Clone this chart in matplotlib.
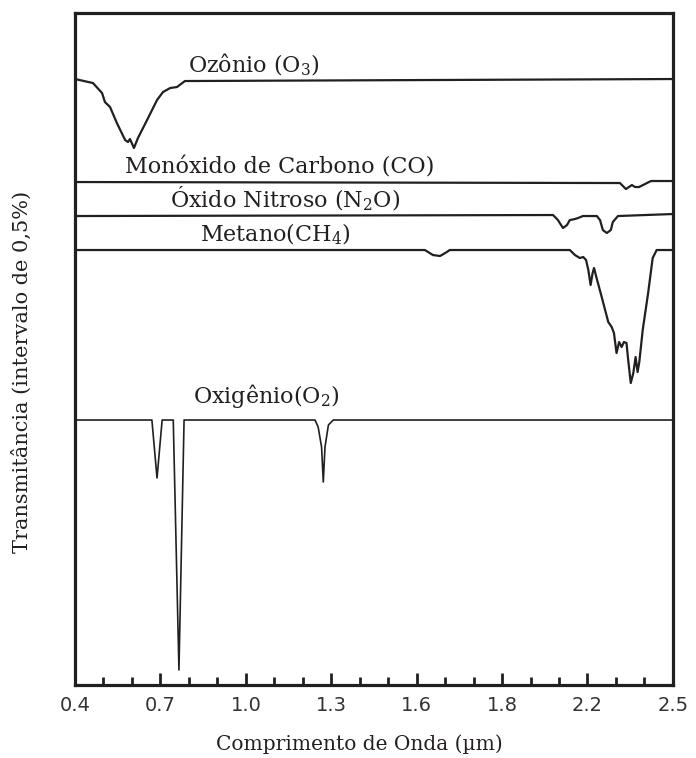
import matplotlib
matplotlib.use("Agg")
from matplotlib import pyplot as plt

# wavelength (um) / relative transmittance (arbitrary, stacked by gas)
ozoneX = [0.400, 0.463, 0.495, 0.505, 0.523, 0.547, 0.576, 0.586, 0.593, 0.607, 0.621, 0.653, 0.688, 0.709, 0.734, 0.758, 0.786, 2.500]
ozoneY = [60.6, 60.2, 59.2, 58.3, 57.8, 56.2, 54.5, 54.3, 54.6, 53.7, 54.7, 56.5, 58.5, 59.3, 59.7, 59.8, 60.4, 60.6]

coX = [0.400, 2.314, 2.335, 2.356, 2.367, 2.381, 2.402, 2.423, 2.500]
coY = [50.3, 50.2, 49.6, 50.0, 49.8, 49.8, 50.1, 50.4, 50.4]

n2oX = [0.400, 2.079, 2.096, 2.114, 2.128, 2.138, 2.156, 2.167, 2.184, 2.233, 2.244, 2.254, 2.268, 2.282, 2.289, 2.307, 2.500]
n2oY = [46.9, 47.0, 46.5, 45.7, 46.0, 46.5, 46.6, 46.7, 46.9, 46.9, 46.5, 45.5, 45.2, 45.5, 46.3, 46.9, 47.1]

ch4X = [0.400, 1.629, 1.657, 1.682, 1.706, 1.716,
        2.138, 2.156, 2.173, 2.185, 2.195, 2.203, 2.211, 2.218, 2.223, 2.232, 2.250, 2.273, 2.285, 2.293, 2.302,
        2.311, 2.320, 2.328, 2.337, 2.343, 2.352, 2.361, 2.369, 2.376, 2.382, 2.394, 2.413, 2.429, 2.443, 2.500]
ch4Y = [43.5, 43.5, 43.0, 42.9, 43.3, 43.5,
        43.5, 43.0, 42.7, 42.8, 42.5, 41.5, 40.0, 41.2, 41.7, 40.7, 38.8, 36.3, 35.8, 35.2, 33.2,
        34.3, 33.8, 34.3, 34.2, 32.5, 30.2, 31.2, 32.8, 31.3, 32.3, 35.5, 39.2, 42.7, 43.5, 43.5]

o2X = [0.407, 0.670, 0.688, 0.706, 0.745, 0.765, 0.783, 1.243, 1.254, 1.266, 1.272, 1.278, 1.290, 1.307, 2.500]
o2Y = [26.5, 26.5, 20.7, 26.5, 26.5, 1.5, 26.5, 26.5, 25.8, 23.8, 20.3, 23.8, 26.0, 26.5, 26.5]

tickVals = [0.4, 0.7, 1.0, 1.3, 1.6, 1.9, 2.2, 2.5]
tickLabels = ['0.4', '0.7', '1.0', '1.3', '1.6', '1.8', '2.2', '2.5']
minorVals = [0.5, 0.6, 0.8, 0.9, 1.1, 1.2, 1.4, 1.5, 1.7, 1.8, 2.0, 2.1, 2.3, 2.4]

labels = ['Ozônio (O$_3$)', 'Monóxido de Carbono (CO)', 'Óxido Nitroso (N$_2$O)', 'Metano(CH$_4$)', 'Oxigênio(O$_2$)']
labelX = [0.797, 0.576, 0.734, 0.839, 0.814]
labelY = [61.3, 51.2, 47.8, 44.4, 28.2]

plt.rcParams['font.family'] = 'DejaVu Serif'
plt.rcParams['mathtext.fontset'] = 'dejavuserif'
ink = '#231f20'

fig = plt.figure(figsize=(6.96, 7.58), dpi=100)
ax = fig.add_axes([0.1078, 0.0963, 0.859, 0.8865])

ax.plot(ozoneX, ozoneY, color=ink, lw=1.6)
ax.plot(coX, coY, color=ink, lw=1.6)
ax.plot(n2oX, n2oY, color=ink, lw=1.6)
ax.plot(ch4X, ch4Y, color=ink, lw=1.6)
ax.plot(o2X, o2Y, color=ink, lw=1.2)

for t, x, y in zip(labels, labelX, labelY):
    ax.text(x, y, t, fontsize=16, color=ink, va='baseline', ha='left')

ax.set_xlim(0.4, 2.5)
ax.set_ylim(0, 67.2)
ax.set_xticks(tickVals)
ax.set_xticklabels(tickLabels, family='DejaVu Sans', fontsize=14, color='#333333')
ax.set_xticks(minorVals, minor=True)
ax.set_yticks([])
ax.tick_params(axis='x', which='major', direction='in', length=8.5, width=2, color=ink, pad=8)
ax.tick_params(axis='x', which='minor', direction='in', length=5.5, width=2, color=ink)
for s in ax.spines.values():
    s.set_linewidth(2.3)
    s.set_color(ink)

ax.set_xlabel('Comprimento de Onda (µm)', fontsize=14.5, color=ink)
ax.xaxis.set_label_coords(0.475, -0.074)
ax.set_ylabel('Transmitância (intervalo de 0,5%)', fontsize=15, color=ink)
ax.yaxis.set_label_coords(-0.072, 0.466)

fig.savefig('out.png', dpi=100)
